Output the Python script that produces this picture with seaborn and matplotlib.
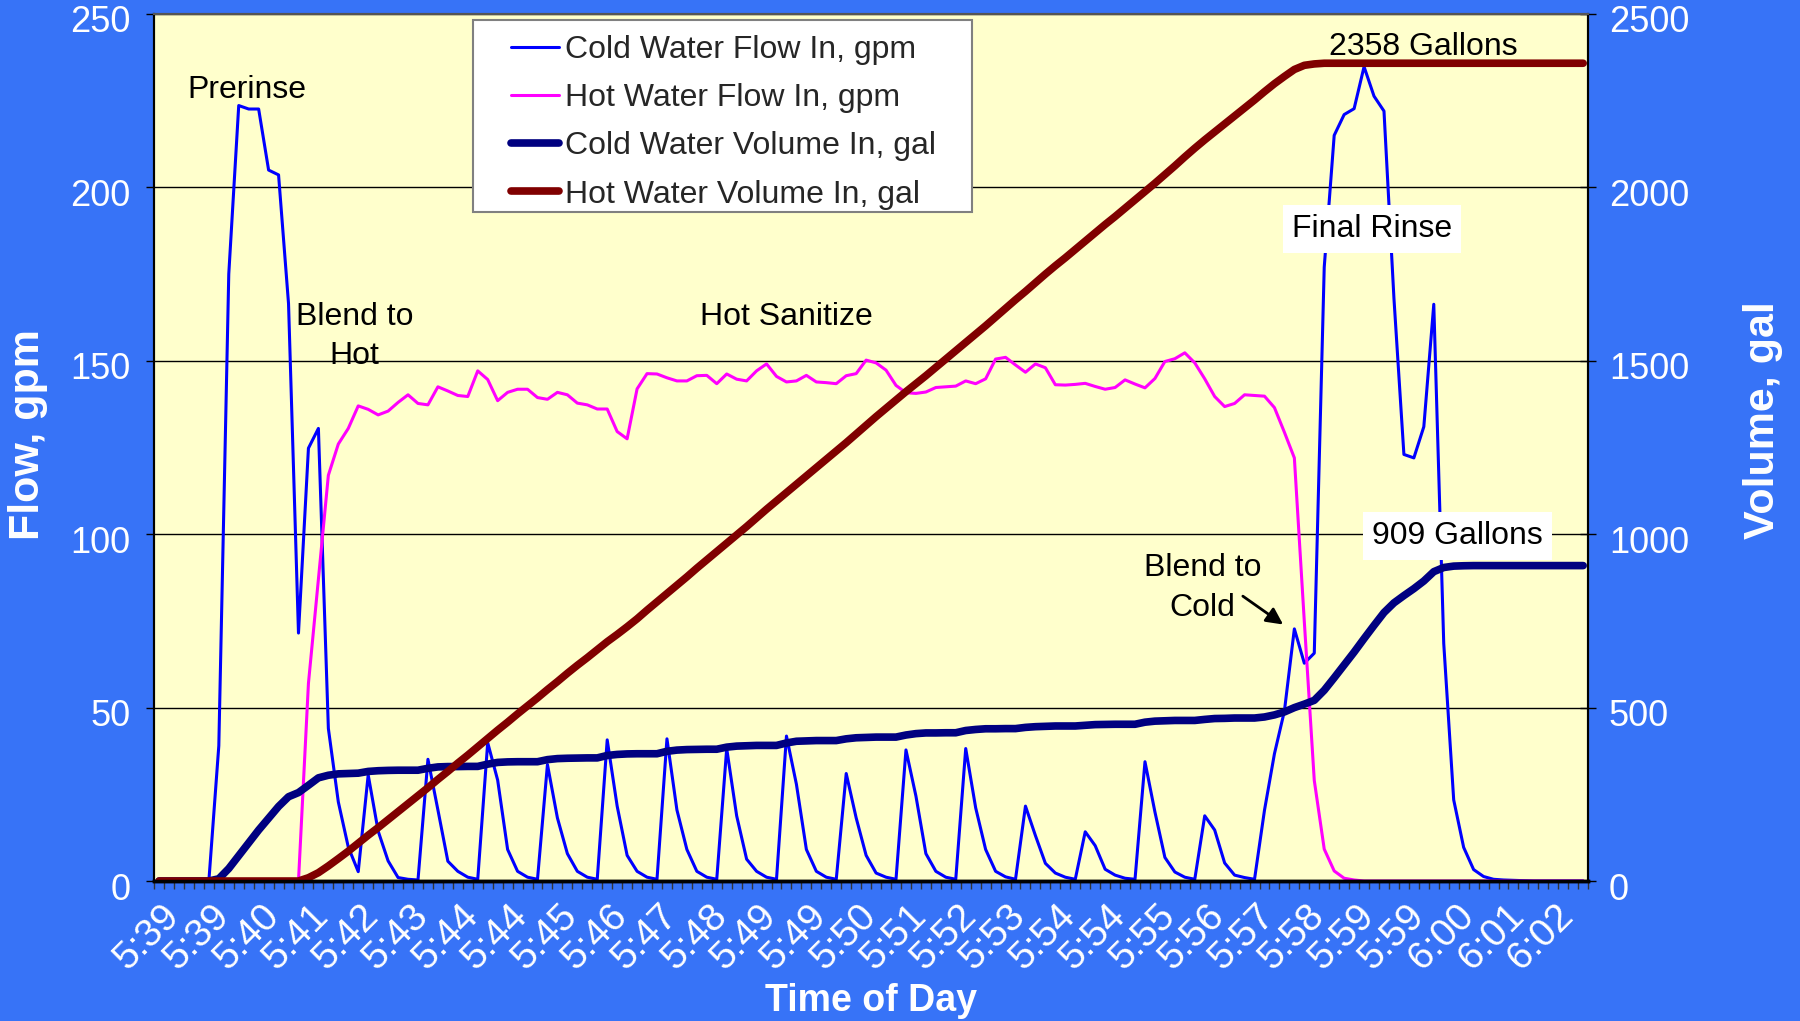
# ============================================
# Cold / hot water flow and volume - CIP cycle
# ============================================

import numpy as np
import pandas as pd
import matplotlib
matplotlib.use("Agg")
import matplotlib.pyplot as plt
import matplotlib.transforms as mtransforms
from matplotlib.patches import Rectangle
import seaborn as sns


# ============================================
# Data (one sample every 10 s)
# ============================================

tick_labels = [
    "5:39", "5:39", "5:40", "5:41", "5:42", "5:43", "5:44", "5:44",
    "5:45", "5:46", "5:47", "5:48", "5:49", "5:49", "5:50", "5:51",
    "5:52", "5:53", "5:54", "5:54", "5:55", "5:56", "5:57", "5:58",
    "5:59", "5:59", "6:00", "6:01", "6:02",
]

cold_flow = [
    0, 0, 0, 0, 0, 0,
    39, 175, 223.6, 222.6, 222.6, 205, 203.6, 166.5,
    71.5, 124.8, 130.5, 44, 22.8, 9.8, 2.7,
    30.6, 14.4, 5.8, 1.0, 0.5, 0.3,
    35.1, 20.5, 5.7, 2.8, 1.1, 0.5,
    39.9, 29.1, 9.1, 2.8, 1.1, 0.5,
    33.6, 18.2, 7.9, 2.8, 1.1, 0.5,
    40.7, 21.6, 7.4, 2.8, 1.1, 0.5,
    41.0, 20.5, 9.1, 2.8, 1.1, 0.5,
    38.2, 18.8, 6.3, 2.8, 1.1, 0.5,
    41.8, 27.9, 9.1, 2.8, 1.1, 0.5,
    31.0, 18.2, 7.4, 2.3, 1.1, 0.5,
    37.8, 24.5, 7.9, 2.8, 1.1, 0.5,
    38.2, 21.1, 9.1, 2.8, 1.2, 0.5,
    21.6, 13.1, 5.1, 2.3, 1.1, 0.5,
    14.2, 10.2, 3.4, 1.7, 0.8, 0.5,
    34.4, 19.9, 6.8, 2.6, 1.1, 0.5,
    18.8, 14.7, 5.2, 1.7, 1.0, 0.5,
    20.4, 36.7, 49.0, 72.7, 62.8, 65.7,
    177, 215, 221, 222.7, 234.8, 226.3, 222, 168, 123, 122, 131, 166.3,
    68.5, 23.4, 9.7, 3.3, 1.3, 0.5,
    0.3, 0.2, 0.1, 0, 0, 0, 0, 0, 0,
]

hot_flow = [
    0, 0, 0, 0, 0, 0, 0, 0, 0, 0, 0, 0, 0, 0, 0,
    57, 87, 117, 126, 130.5, 137, 136, 134.4, 135.5, 138,
    140.2, 137.7, 137.3, 142.5, 141.3, 140.0, 139.7, 147.1, 144.6, 138.5,
    140.9, 141.8, 141.8, 139.4, 138.9, 140.9, 140.2, 137.8, 137.3, 136.1,
    136.1, 129.6, 127.5, 141.9, 146.3, 146.2, 145.1, 144.2, 144.2, 145.7,
    145.8, 143.4, 146.2, 144.7, 144.2, 147.1, 149.1, 145.5, 143.9, 144.2,
    145.8, 143.9, 143.7, 143.4, 145.7, 146.3, 150.2, 149.4, 147.3, 142.9,
    140.8, 140.6, 141.0, 142.3, 142.5, 142.7, 144.2, 143.4, 144.8, 150.5,
    151.0, 148.8, 146.7, 149.1, 148.0, 143.1, 143.0, 143.2, 143.5, 142.6,
    141.8, 142.3, 144.5, 143.3, 142.2, 144.9, 149.8, 150.6, 152.3, 149.4,
    144.8, 139.7, 136.8, 137.7, 140.2, 140.0, 139.8, 136.5, 129.4, 122.0,
    74.8, 29.0, 9.2, 2.9, 0.8, 0.3,
    0, 0, 0, 0, 0, 0, 0, 0, 0, 0, 0, 0,
    0, 0, 0, 0, 0, 0, 0, 0, 0, 0, 0,
]

cold_volume = [
    0, 0, 0, 0, 0, 0,
    6.5, 36, 73, 110, 147, 181, 215, 243, 255, 276, 297.5,
    305, 309, 310, 311, 316, 318, 319, 319.5, 319.5, 319.5,
    325, 329, 330, 330, 330.5, 330.5, 337, 342, 343.5, 344, 344, 344,
    350, 353, 354, 354.5, 355, 355, 362, 365, 366.5, 367, 367, 367,
    374, 377.5, 379, 379.5, 380, 380, 386, 389, 390, 391, 391, 391,
    398, 403, 404, 405, 405, 405, 410, 413, 414, 415, 415, 415,
    421, 425, 427, 427, 427.5, 427.5, 434, 437, 439, 439, 439.5, 439.5,
    443, 445, 446, 447, 447, 447, 449, 451, 451.5, 452, 452, 452,
    458, 461, 462, 463, 463, 463, 466, 468.5, 469, 470, 470, 470,
    473, 479, 487.5, 500, 510, 521, 550, 586, 623, 660, 699, 737,
    774, 802, 823, 843, 865, 892, 904, 908, 909, 909.5, 909.5, 909.5,
    909.5, 909.5, 909.5, 909.5, 909.5, 909.5, 909.5, 909.5, 909.5,
]

hot_volume = [
    0, 0, 0, 0, 0, 0, 0, 0, 0, 0, 0, 0, 0, 0, 0,
    9.5, 24, 43.5, 64.5, 86, 109, 132, 154, 177, 200,
    223, 246, 269, 293, 316, 340, 363, 387, 411, 435,
    458, 482, 505, 528, 552, 575, 599, 622, 644, 667,
    690, 711, 733, 756, 781, 805, 829, 853, 877, 902,
    926, 950, 974, 998, 1022, 1047, 1072, 1096, 1120, 1144,
    1168, 1192, 1216, 1240, 1264, 1289, 1314, 1339, 1363, 1387,
    1411, 1434, 1457, 1481, 1505, 1529, 1553, 1577, 1601, 1626,
    1651, 1676, 1700, 1725, 1750, 1774, 1797, 1821, 1845, 1869,
    1893, 1916, 1940, 1964, 1988, 2012, 2037, 2062, 2088, 2113,
    2137, 2160, 2183, 2206, 2229, 2252, 2276, 2299, 2320, 2340,
    2352, 2356, 2358, 2358, 2358,
    2358, 2358, 2358, 2358, 2358, 2358, 2358, 2358, 2358, 2358, 2358, 2358,
    2358, 2358, 2358, 2358, 2358, 2358, 2358, 2358, 2358, 2358, 2358, 2358,
]

label_every = 5


# ============================================
# Style
# ============================================

sns.set_style("ticks")
plt.rcParams['font.family'] = ['Liberation Sans', 'DejaVu Sans']

BG = '#3773F7'
PLOT_BG = '#FFFFCC'
C_COLD = '#0000FF'
C_HOT = '#FF00FF'
C_COLD_VOL = '#000080'
C_HOT_VOL = '#800000'

df = pd.DataFrame({
    'sample': np.arange(len(cold_flow)),
    'cold_flow': cold_flow,
    'hot_flow': hot_flow,
    'cold_volume': cold_volume,
    'hot_volume': hot_volume,
})
n = len(df)


# ============================================
# Plot
# ============================================

fig = plt.figure(figsize=(18, 10.21), dpi=100, facecolor=BG)
ax = fig.add_axes([0.0856, 0.1371, 0.7967, 0.8492])
ax.set_facecolor(PLOT_BG)
ax2 = ax.twinx()

sns.lineplot(data=df, x='sample', y='cold_flow', ax=ax, color=C_COLD,
             linewidth=2.2, label='Cold Water Flow In, gpm', legend=False)
sns.lineplot(data=df, x='sample', y='hot_flow', ax=ax, color=C_HOT,
             linewidth=2.2, label='Hot Water Flow In, gpm', legend=False)
sns.lineplot(data=df, x='sample', y='cold_volume', ax=ax2, color=C_COLD_VOL,
             linewidth=5.5, label='Cold Water Volume In, gal', legend=False)
sns.lineplot(data=df, x='sample', y='hot_volume', ax=ax2, color=C_HOT_VOL,
             linewidth=5.5, label='Hot Water Volume In, gal', legend=False)

# Axes ranges
ax.set_xlim(-0.5, n - 0.5)
ax.set_ylim(0, 250)
ax2.set_ylim(0, 2500)

ax.set_xlabel('')
ax.set_ylabel('')
ax2.set_ylabel('')

# Grid
ax.set_axisbelow(True)
ax.yaxis.grid(True, color='black', linewidth=1)

# Y ticks
ax.set_yticks(range(0, 251, 50))
ax.tick_params(axis='y', labelsize=26, labelcolor='white', color='black',
               length=6, width=1, pad=11, direction='out')
ax2.set_yticks(range(0, 2501, 500))
ax2.tick_params(axis='y', labelsize=26, labelcolor='white', color='black',
                length=12, width=1, pad=9, direction='inout')
ydown = mtransforms.ScaledTranslation(0, -0.05, fig.dpi_scale_trans)
for lbl in ax.get_yticklabels() + ax2.get_yticklabels():
    lbl.set_transform(lbl.get_transform() + ydown)

# X ticks (labels every 5 samples, minor marks between samples)
label_pos = np.arange(0, label_every * len(tick_labels), label_every)
ax.set_xticks(label_pos)
ax.set_xticklabels(tick_labels, rotation=45, ha='right', va='top',
                   rotation_mode='anchor', fontsize=28, color='white')
ax.set_xticks(np.arange(-0.5, n, 1), minor=True)
ax.tick_params(axis='x', which='major', length=0, pad=12)
ax.tick_params(axis='x', which='minor', length=6, width=1, color='#333333',
               direction='out')
shift = mtransforms.ScaledTranslation(0.02, 0, fig.dpi_scale_trans)
for lbl in ax.get_xticklabels():
    lbl.set_transform(lbl.get_transform() + shift)

# Spines
for a in (ax, ax2):
    for side in ('left', 'right'):
        a.spines[side].set_color('black')
        a.spines[side].set_linewidth(1.5)
    a.spines['top'].set_color('#555555')
    a.spines['top'].set_linewidth(1.5)
    a.spines['bottom'].set_color('black')
    a.spines['bottom'].set_linewidth(2.5)

# Axis titles
fig.text(28 / 1800, 1 - 435 / 1021, 'Flow, gpm', rotation=90,
         color='white', fontsize=31, fontweight='bold',
         ha='center', va='center')
fig.text(1763 / 1800, 1 - 420 / 1021, 'Volume, gal', rotation=90,
         color='white', fontsize=31, fontweight='bold',
         ha='center', va='center')
fig.text(871 / 1800, 1 - 1001 / 1021, 'Time of Day',
         color='white', fontsize=27, fontweight='bold',
         ha='center', va='center')

# Annotations (drawn on top axes, placed in flow coordinates)
notes = [
    ('Prerinse', 8.8, 228.0, False),
    ('Blend to\nHot', 19.6, 157.0, False),
    ('Hot Sanitize', 63.0, 162.5, False),
    ('Blend to\nCold', 104.8, 84.5, False),
    ('2358 Gallons', 126.9, 240.5, False),
    ('Final Rinse', 121.8, 188.0, True),
    ('909 Gallons', 130.35, 99.5, True),
]
for txt, x, y, boxed in notes:
    kw = {}
    if boxed:
        kw['bbox'] = dict(boxstyle='square,pad=0.28', facecolor='white',
                          edgecolor='none')
    ax2.text(x, y, txt, transform=ax.transData, fontsize=23, color='black',
             ha='center', va='center', linespacing=1.4, zorder=6, **kw)

ax2.annotate('', xy=(113.1, 73.5), xytext=(108.6, 82.6),
             xycoords=ax.transData, textcoords=ax.transData,
             arrowprops=dict(arrowstyle='-|>', color='black', lw=2,
                             mutation_scale=25),
             zorder=6)

# Legend
legend_box = Rectangle((473 / 1800, 1 - 212 / 1021),
                       (972 - 473) / 1800, (212 - 20) / 1021,
                       transform=fig.transFigure, facecolor='white',
                       edgecolor='#808080', linewidth=1.5, zorder=7)
ax2.add_patch(legend_box)

handles = ax.get_lines()[:2] + ax2.get_lines()[:2]
labels = [h.get_label() for h in handles]
leg = ax2.legend(handles, labels, loc='upper left',
                 bbox_to_anchor=(511 / 1800, 1 - 35 / 1021),
                 bbox_transform=fig.transFigure, frameon=False,
                 fontsize=23, borderpad=0, borderaxespad=0,
                 handlelength=1.5, handletextpad=0.2, labelspacing=0.57)
leg.set_zorder(8)

# Save figure
plt.savefig("out.png", dpi=100, facecolor=fig.get_facecolor())
